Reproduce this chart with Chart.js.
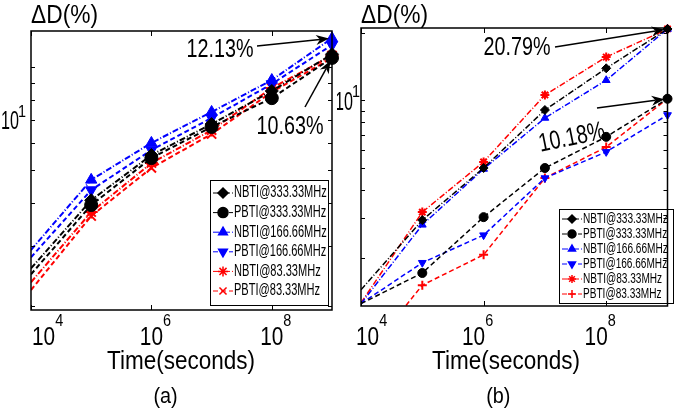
<!DOCTYPE html>
<html>
<head>
<meta charset="utf-8">
<script src="https://cdn.jsdelivr.net/npm/chart.js@4.4.1/dist/chart.umd.min.js"></script>
<style>
  body { margin: 0; background: #fff; width: 674px; height: 418px; overflow: hidden; position: relative; }
  canvas { position: absolute; top: 0; }
  #ca { left: 0; }
  #cb { left: 337px; }
</style>
</head>
<body>
<canvas id="cb" width="337" height="418"></canvas>
<canvas id="ca" width="345" height="418"></canvas>
<script>
// stress time in seconds, same for both panels
const times = [1e4, 1e5, 1e6, 1e7, 1e8, 1e9];
const seriesNames = ['NBTI@333.33MHz', 'PBTI@333.33MHz', 'NBTI@166.66MHz', 'PBTI@166.66MHz', 'NBTI@83.33MHz', 'PBTI@83.33MHz'];

// panel (a): delay degradation, %
const aNbti333 = [2.58, 4.08, 5.53, 6.81, 8.51, 10.9];
const aPbti333 = [2.48, 3.95, 5.42, 6.68, 8.11, 10.63];
const aNbti166 = [2.92, 4.68, 6.00, 7.39, 9.16, 12.13];
const aPbti166 = [2.78, 4.37, 5.72, 7.10, 8.92, 11.6];
const aNbti83 = [2.35, 3.77, 5.24, 6.54, 8.68, 10.8];
const aPbti83 = [2.23, 3.67, 5.07, 6.37, 8.45, 10.63];

// panel (b): delay degradation, %
const bNbti333 = [1.44, 2.94, 5.01, 9.07, 13.9, 20.79];
const bPbti333 = [1.25, 1.71, 3.03, 5.01, 6.89, 10.18];
const bNbti166 = [1.25, 2.80, 4.96, 8.36, 12.3, 20.79];
const bPbti166 = [1.25, 1.90, 2.52, 4.52, 5.91, 8.62];
const bNbti83 = [1.26, 3.19, 5.33, 10.58, 15.6, 20.79];
const bPbti83 = [0.69, 1.51, 2.06, 4.52, 6.21, 10.18];

// axis ticks
const xTicks = [1e4, 1e6, 1e8];
const xTickExp = ['4', '6', '8'];
const yTicks = [2, 3, 4, 5, 6, 7, 8, 9, 10, 20];

const FONT = '"Liberation Sans", Arial, sans-serif';

const seriesStyle = [
  { color: '#000000', dash: [6, 2, 1, 2], marker: 'rectRot', rot: 0 },
  { color: '#000000', dash: [5, 3], marker: 'circle', rot: 0 },
  { color: '#0000ff', dash: [6, 2, 1, 2], marker: 'triangle', rot: 0 },
  { color: '#0000ff', dash: [5, 3], marker: 'triangle', rot: 180 },
  { color: '#ff0000', dash: [6, 2, 1, 2], marker: 'star', rot: 0 },
  { color: '#ff0000', dash: [5, 3], marker: 'crossRot', rot: 0 }
];

const panels = [
  {
    id: 'ca', tag: '(a)',
    values: [aNbti333, aPbti333, aNbti166, aPbti166, aNbti83, aPbti83],
    yMin: 1.95, yMax: 12.74,
    pad: { left: 31, top: 31, right: 13, bottom: 108 },
    lw: 2, r: 6.5, lastMarker: 'crossRot',
    yLabelAt: 7, yLabelGap: 5,            // the original sets its 10^1 label beside the 7 tick
    xLabelShift: 4, titleX: 181,
    legend: { x: 210, y: 180, w: 118, h: 125, row0: 193, rowH: 19.6, size: 16, sx: 0.69, r: 5 },
    notes: [
      { text: '12.13%', cx: 220, cy: 50, rot: 0, ax: 257, ay: 46, t: 1e9, v: 12.13 },
      { text: '10.63%', cx: 290, cy: 127, rot: 0, ax: 305, ay: 107, t: 1e9, v: 10.63 }
    ]
  },
  {
    id: 'cb', tag: '(b)',
    values: [bNbti333, bPbti333, bNbti166, bPbti166, bNbti83, bPbti83],
    yMin: 1.22, yMax: 21.0,
    pad: { left: 24, top: 28, right: 1, bottom: 112 },
    lw: 1.5, r: 4.5, lastMarker: 'cross',
    yLabelAt: 10, yLabelGap: 1,
    xLabelShift: -6, titleX: 169,
    legend: { x: 222, y: 209, w: 114, h: 94, row0: 219, rowH: 15, size: 14, sx: 0.72, r: 4 },
    notes: [
      { text: '20.79%', cx: 180, cy: 48, rot: 0, ax: 218, ay: 47, t: 1e9, v: 20.79 },
      { text: '10.18%', cx: 235, cy: 138, rot: -0.2, ax: 260, ay: 108, t: 1e9, v: 10.18 }
    ]
  }
];

function txt(ctx, s, x, y, size, sx, align, rot) {
  ctx.save();
  ctx.translate(x, y);
  if (rot) ctx.rotate(rot);
  ctx.scale(sx, 1);
  ctx.font = size + 'px ' + FONT;
  ctx.textAlign = align || 'center';
  ctx.textBaseline = 'middle';
  ctx.fillStyle = '#000';
  ctx.fillText(s, 0, 0);
  ctx.restore();
}

function textWidth(ctx, s, size, sx) {
  ctx.font = size + 'px ' + FONT;
  return ctx.measureText(s).width * sx;
}

function arrow(ctx, x0, y0, x1, y1) {
  const a = Math.atan2(y1 - y0, x1 - x0), c = Math.cos(a), s = Math.sin(a);
  const L = 13, W = 5;
  ctx.save();
  ctx.strokeStyle = '#000';
  ctx.fillStyle = '#000';
  ctx.lineWidth = 1.5;
  ctx.beginPath();
  ctx.moveTo(x0, y0);
  ctx.lineTo(x1 - L * 0.7 * c, y1 - L * 0.7 * s);
  ctx.stroke();
  ctx.beginPath();
  ctx.moveTo(x1, y1);
  ctx.lineTo(x1 - L * c + W * s, y1 - L * s - W * c);
  ctx.lineTo(x1 - L * 0.7 * c, y1 - L * 0.7 * s);
  ctx.lineTo(x1 - L * c - W * s, y1 - L * s + W * c);
  ctx.closePath();
  ctx.fill();
  ctx.restore();
}

const matlabFrame = {
  id: 'matlabFrame',
  afterDatasetsDraw(chart) {
    const p = chart.options.plugins.matlabFrame.panel;
    const { ctx, chartArea: ca } = chart;
    const xs = chart.scales.x, ys = chart.scales.y;

    // legend box
    const lg = p.legend;
    ctx.save();
    ctx.fillStyle = '#fff';
    ctx.fillRect(lg.x, lg.y, lg.w, lg.h);
    ctx.strokeStyle = '#000';
    ctx.lineWidth = 1;
    ctx.strokeRect(lg.x + 0.5, lg.y + 0.5, lg.w, lg.h);
    chart.data.datasets.forEach((ds, i) => {
      const y = lg.row0 + i * lg.rowH;
      ctx.save();
      ctx.strokeStyle = ds.borderColor;
      ctx.lineWidth = 1;
      ctx.setLineDash(ds.borderDash);
      ctx.beginPath();
      ctx.moveTo(lg.x + 3, y);
      ctx.lineTo(lg.x + 23, y);
      ctx.stroke();
      ctx.restore();
      ctx.save();
      ctx.strokeStyle = ds.borderColor;
      ctx.fillStyle = ds.borderColor;
      ctx.lineWidth = 1.5;
      Chart.helpers.drawPoint(ctx, { pointStyle: ds.pointStyle, radius: lg.r, rotation: ds.pointRotation, borderWidth: 1.5 }, lg.x + 13, y);
      ctx.restore();
      txt(ctx, ds.label, lg.x + 24, y, lg.size, lg.sx, 'left');
    });
    ctx.restore();
  },
  afterDraw(chart) {
    const p = chart.options.plugins.matlabFrame.panel;
    const { ctx, chartArea: ca } = chart;
    const xs = chart.scales.x, ys = chart.scales.y;

    // box
    ctx.save();
    ctx.strokeStyle = '#000';
    ctx.lineWidth = 1.5;
    ctx.strokeRect(ca.left, ca.top, ca.right - ca.left, ca.bottom - ca.top);

    // inward ticks
    ctx.lineWidth = 1;
    ctx.beginPath();
    xTicks.forEach(t => {
      const x = Math.round(xs.getPixelForValue(t)) + 0.5;
      ctx.moveTo(x, ca.bottom); ctx.lineTo(x, ca.bottom - 5);
      ctx.moveTo(x, ca.top); ctx.lineTo(x, ca.top + 5);
    });
    yTicks.forEach(v => {
      if (v < p.yMin || v > p.yMax) return;
      const y = Math.round(ys.getPixelForValue(v)) + 0.5;
      ctx.moveTo(ca.left, y); ctx.lineTo(ca.left + 4, y);
      ctx.moveTo(ca.right, y); ctx.lineTo(ca.right - 4, y);
    });
    ctx.stroke();
    ctx.restore();

    // x tick labels, 10 with exponent
    xTicks.forEach((t, i) => {
      const wb = textWidth(ctx, '10', 26, 0.8), we = textWidth(ctx, xTickExp[i], 17, 0.85);
      let left = xs.getPixelForValue(t) + p.xLabelShift - (wb + we) / 2;
      left = Math.max(left, ca.left + 1 + Math.min(p.xLabelShift, 0));
      txt(ctx, '10', left, 338, 26, 0.8, 'left');
      txt(ctx, xTickExp[i], left + wb, 321, 17, 0.85, 'left');
    });

    // y tick label
    const yl = ys.getPixelForValue(p.yLabelAt) + 2;
    const we = textWidth(ctx, '1', 17, 0.85);
    txt(ctx, '1', ca.left - p.yLabelGap - we, yl - 10, 17, 0.85, 'left');
    txt(ctx, '10', ca.left - p.yLabelGap - we + 1, yl, 26, 0.62, 'right');

    // titles
    txt(ctx, '\u0394D(%)', ca.left, 16, 25, 0.91, 'left');
    txt(ctx, 'Time(seconds)', p.titleX, 362, 25, 0.9, 'center');
    txt(ctx, p.tag, ca.left + (ca.right - ca.left) / 2 - 16, 397, 22, 0.9, 'center');

    // annotations
    p.notes.forEach(n => {
      txt(ctx, n.text, n.cx, n.cy, 26, 0.76, 'center', n.rot);
      const tx = xs.getPixelForValue(n.t), ty = ys.getPixelForValue(n.v);
      const a = Math.atan2(ty - n.ay, tx - n.ax);
      arrow(ctx, n.ax, n.ay, tx - 3 * Math.cos(a), ty - 3 * Math.sin(a));
    });
  }
};

panels.forEach(p => {
  const datasets = p.values.map((vals, i) => {
    const st = seriesStyle[i];
    const marker = i === 5 ? p.lastMarker : st.marker;
    const stroked = marker === 'star' || marker === 'cross' || marker === 'crossRot';
    return {
      label: seriesNames[i],
      data: times.map((t, k) => ({ x: t, y: vals[k] })),
      borderColor: st.color,
      backgroundColor: st.color,
      borderDash: st.dash,
      borderWidth: p.lw,
      pointStyle: marker,
      pointRotation: st.rot,
      pointRadius: times.map((t, k) => (k === 0 ? 0 : p.r)),
      pointBorderWidth: stroked ? 2 : 1,
      pointBackgroundColor: st.color,
      pointBorderColor: st.color,
      tension: 0,
      clip: { left: 0, top: 12, right: 12, bottom: 0 }
    };
  });

  new Chart(document.getElementById(p.id), {
    type: 'line',
    data: { datasets: datasets },
    options: {
      responsive: false,
      animation: false,
      devicePixelRatio: 1,
      layout: { padding: p.pad },
      plugins: {
        legend: { display: false },
        tooltip: { enabled: false },
        matlabFrame: { panel: p }
      },
      scales: {
        x: { type: 'logarithmic', min: 1e4, max: 1e9, display: false },
        y: { type: 'logarithmic', min: p.yMin, max: p.yMax, display: false }
      }
    },
    plugins: [matlabFrame]
  });
});
</script>
</body>
</html>
